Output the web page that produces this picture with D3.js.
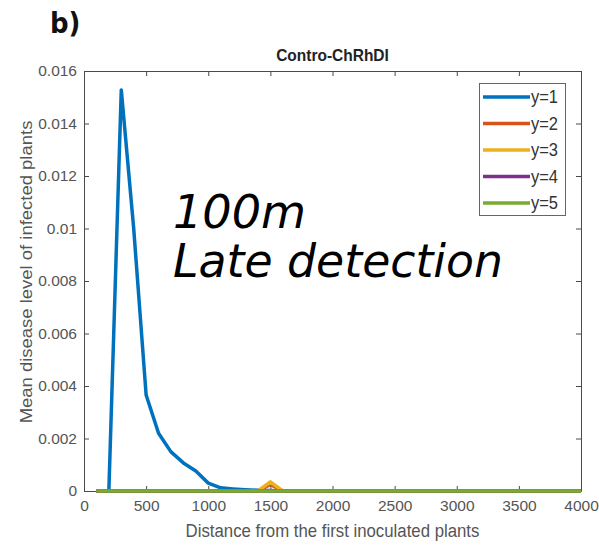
<!DOCTYPE html>
<html>
<head>
<meta charset="utf-8">
<script src="https://cdn.jsdelivr.net/npm/d3@7/dist/d3.min.js"></script>
<style>
  html, body { margin: 0; padding: 0; background: #fff; }
  svg { display: block; }
</style>
</head>
<body>
<svg id="chart" width="599" height="546"></svg>
<script>
// Distances (m) from the first inoculated plants, 100 m steps
const distances = d3.range(100, 4001, 100);

// Mean disease level per year, indexed like `distances`
const year1 = [0, 0, 0.01528, 0.0100, 0.00366, 0.0022, 0.00149, 0.00107, 0.00076, 0.0003,
               0.00012, 0.00008, 0.00005, 0.00003, 0.00002].concat(d3.range(25).map(() => 0));
const year2 = d3.range(40).map(() => 0);
year2[14] = 0.00025;
const year3 = d3.range(40).map(() => 0);
year3[14] = 0.00035;
const year4 = d3.range(40).map(() => 0);
const year5 = d3.range(40).map(() => 0);

const seriesNames = ["y=1", "y=2", "y=3", "y=4", "y=5"];
const seriesValues = [year1, year2, year3, year4, year5];
const seriesColors = ["#0072BD", "#D95319", "#EDB120", "#7E2F8E", "#77AC30"];

const xTicks = [0, 500, 1000, 1500, 2000, 2500, 3000, 3500, 4000];
const yTicks = [0, 0.002, 0.004, 0.006, 0.008, 0.01, 0.012, 0.014, 0.016];

const svg = d3.select("#chart");
const margin = { left: 84, right: 18, top: 71, bottom: 55 };
const W = 599, H = 546;
const x = d3.scaleLinear().domain([0, 4000]).range([margin.left, W - margin.right]);
const y = d3.scaleLinear().domain([0, 0.016]).range([H - margin.bottom, margin.top]);

const axisColor = "#4a4a4a";
const labelColor = "#555";
const fontFam = "'Liberation Sans', Arial, sans-serif";
const stretch = 1.1; // text glyphs are drawn slightly taller than wide

// Text helper: places a string at (px, py) with a vertical stretch
function label(px, py, str, opts = {}) {
  const t = svg.append("text")
    .attr("transform", `translate(${px},${py})${opts.rotate ? ` rotate(${opts.rotate}) scale(${stretch},1)` : ` scale(1,${stretch})`}`)
    .attr("text-anchor", opts.anchor || "start")
    .attr("font-family", opts.family || fontFam)
    .attr("font-size", opts.size || 14)
    .attr("font-weight", opts.weight || "normal")
    .attr("font-style", opts.style || "normal")
    .attr("fill", opts.fill || "#000")
    .text(str);
  if (opts.length) t.attr("textLength", opts.length).attr("lengthAdjust", "spacingAndGlyphs");
  return t;
}

// Panel letter
label(50, 33, "b)", { family: "'DejaVu Sans', Verdana, sans-serif", weight: "bold", size: 26, fill: "#111" });

// Title
label((x.range()[0] + x.range()[1]) / 2, 61, "Contro-ChRhDI", { anchor: "middle", weight: "bold", size: 15.5, fill: "#222" });

// Axes with inward ticks, boxed on all four sides
const tickLen = 5;
const gx = svg.append("g").attr("transform", `translate(0,${y(0)})`)
  .call(d3.axisBottom(x).tickValues(xTicks).tickFormat(d3.format("d")).tickSizeInner(-tickLen).tickSizeOuter(0).tickPadding(9));
const gxTop = svg.append("g").attr("transform", `translate(0,${y(0.016)})`)
  .call(d3.axisTop(x).tickValues(xTicks).tickFormat("").tickSizeInner(-tickLen).tickSizeOuter(0));
const gy = svg.append("g").attr("transform", `translate(${x(0)},0)`)
  .call(d3.axisLeft(y).tickValues(yTicks).tickFormat(d => d === 0 ? "0" : String(+d.toFixed(3))).tickSizeInner(-tickLen).tickSizeOuter(0).tickPadding(7));
const gyRight = svg.append("g").attr("transform", `translate(${x(4000)},0)`)
  .call(d3.axisRight(y).tickValues(yTicks).tickFormat("").tickSizeInner(-tickLen).tickSizeOuter(0));

[gx, gxTop, gy, gyRight].forEach(g => {
  g.selectAll("path").attr("stroke", axisColor).attr("stroke-width", 1);
  g.selectAll("line").attr("stroke", axisColor).attr("stroke-width", 1);
  g.selectAll("text").attr("fill", labelColor).attr("font-family", fontFam).attr("font-size", 15.5);
});

// Axis labels
label(x(2000), 537, "Distance from the first inoculated plants", { anchor: "middle", size: 16.8, fill: labelColor });
label(32, 272, "Mean disease level of infected plants", { anchor: "middle", size: 16.8, fill: labelColor, rotate: -90 });

// Series lines
const line = d3.line().x((d, i) => x(distances[i])).y(d => y(d));
seriesValues.forEach((vals, k) => {
  svg.append("path").datum(vals)
    .attr("d", line).attr("fill", "none")
    .attr("stroke", seriesColors[k]).attr("stroke-width", 3.5)
    .attr("stroke-linejoin", "round");
});

// Annotation
const noteFont = "'DejaVu Sans', Verdana, sans-serif";
label(173, 228, "100m", { family: noteFont, style: "italic", size: 42, length: 133 });
label(173, 277, "Late detection", { family: noteFont, style: "italic", size: 42, length: 330 });

// Legend
const lg = svg.append("g");
lg.append("rect").attr("x", 479.5).attr("y", 83.5).attr("width", 86).attr("height", 132)
  .attr("fill", "#fff").attr("stroke", "#666").attr("stroke-width", 1);
seriesNames.forEach((name, k) => {
  const yy = 97 + k * 26.5;
  lg.append("line").attr("x1", 483).attr("x2", 530).attr("y1", yy).attr("y2", yy)
    .attr("stroke", seriesColors[k]).attr("stroke-width", 3.5);
  label(531, yy + 6, name, { size: 16.5, fill: "#333" });
});
</script>
</body>
</html>
